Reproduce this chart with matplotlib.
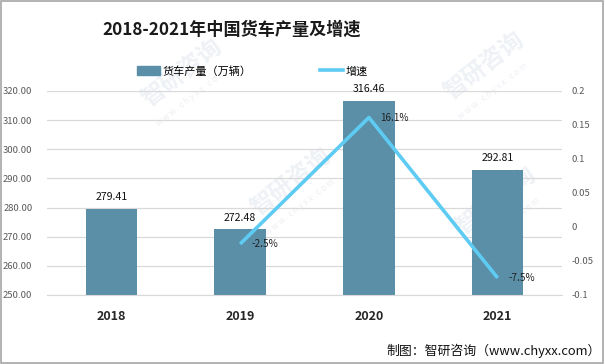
import numpy as np
import matplotlib
matplotlib.use("Agg")
import matplotlib.pyplot as plt
from matplotlib.patches import Rectangle
from matplotlib.lines import Line2D

plt.rcParams['font.family'] = ['Noto Sans CJK SC', 'DejaVu Sans']

# Data
years = ["2018", "2019", "2020", "2021"]
output = [279.41, 272.48, 316.46, 292.81]          # 货车产量（万辆）
growth_years = ["2019", "2020", "2021"]
growth = [-0.025, 0.161, -0.075]                   # 增速
growth_labels = ["-2.5%", "16.1%", "-7.5%"]

left_ticks = [250, 260, 270, 280, 290, 300, 310, 320]
right_ticks = [-0.1, -0.05, 0, 0.05, 0.1, 0.15, 0.2]
right_ticklabels = ["-0.1", "-0.05", "0", "0.05", "0.1", "0.15", "0.2"]

BAR_C = "#5b8fa8"
LINE_C = "#5ecbf3"
TICK_C = "#595959"

fig = plt.figure(figsize=(6.05, 3.64), dpi=100)
fig.patch.set_facecolor("white")

# faint watermarks (kept inside the frame, behind the chart)
wm_pos = [(0.30, 0.80), (0.80, 0.82), (0.48, 0.50), (0.82, 0.45)]
for wx, wy in wm_pos:
    fig.text(wx, wy, "智研咨询", fontsize=17, color="#eef1f5", rotation=38,
             ha="center", va="center", fontweight="bold", zorder=-1)
    fig.text(wx + 0.015, wy - 0.07, "w w w . c h y x x . c o m", fontsize=6,
             color="#eceff3", rotation=38, ha="center", va="center", zorder=-1)

ax = fig.add_axes([0.0777, 0.1896, 0.8513, 0.5604])
ax.set_facecolor("none")
x = np.arange(len(years))
ax.bar(x, output, width=0.40, color=BAR_C, zorder=2)
ax.set_ylim(250, 320)
ax.set_xlim(-0.5, 3.5)
ax.set_yticks(left_ticks)
ax.set_yticklabels([f"{v:.2f}" for v in left_ticks], color=TICK_C, fontsize=6.8)
ax.yaxis.grid(True, color="#d9d9d9", lw=0.9, zorder=0)
ax.set_axisbelow(True)
ax.tick_params(axis="y", length=0, pad=10.5)
ax.set_xticks(x)
ax.set_xticklabels(years, fontsize=9, fontweight="bold", color="#262626")
ax.tick_params(axis="x", length=0, pad=11)
for s in ax.spines.values():
    s.set_visible(False)
ax.spines["bottom"].set_visible(True)
ax.spines["bottom"].set_color("#d9d9d9")

for xi, v in zip(x, output):
    ax.annotate(f"{v:.2f}", (xi, v), xytext=(0, 5), textcoords="offset points",
                ha="center", va="bottom", fontsize=7.6, color="#111111")

ax2 = ax.twinx()
gx = [years.index(y) for y in growth_years]
ax2.plot(gx, growth, color=LINE_C, lw=2.6, zorder=3, solid_capstyle="butt")
ax2.set_ylim(-0.1, 0.2)
ax2.set_yticks(right_ticks)
ax2.set_yticklabels(right_ticklabels, color=TICK_C, fontsize=6.8)
ax2.tick_params(axis="y", length=0, pad=7)
for s in ax2.spines.values():
    s.set_visible(False)
for xi, g, lab in zip(gx, growth, growth_labels):
    ax2.annotate(lab, (xi, g), xytext=(8, 0), textcoords="offset points",
                 ha="left", va="center", fontsize=7.2, color="#222222")

# title
fig.text(0.383, 0.918, "2018-2021年中国货车产量及增速", fontsize=12.3, fontweight="bold",
         ha="center", va="center", color="#1a1a1a")

# legend
handles = [Rectangle((0, 0), 1, 1, color=BAR_C), Line2D([0], [0], color=LINE_C, lw=2.6)]
fig.legend(handles, ["货车产量（万辆）", "增速"], loc="center", bbox_to_anchor=(0.417, 0.805),
           ncol=2, frameon=False, fontsize=8, handlelength=2.1, handleheight=0.8,
           handletextpad=0.2, columnspacing=6.2)

# source
fig.text(0.993, 0.035, "制图：智研咨询（www.chyxx.com）", fontsize=9.3, ha="right",
         va="center", color="#111111")

# border
fig.add_artist(Rectangle((0.001, 0.002), 0.995, 0.996, transform=fig.transFigure,
                         fill=False, edgecolor="#a6a6a6", lw=1.2))

fig.savefig("out.png", dpi=100, facecolor="white")
